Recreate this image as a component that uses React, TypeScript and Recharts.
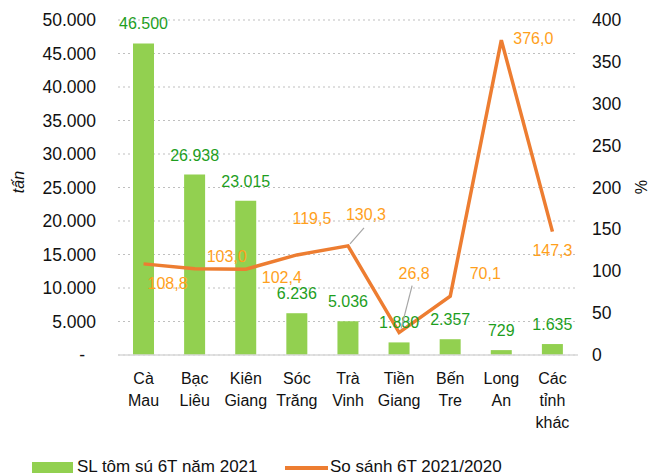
import React from 'react';
import {
  ComposedChart, Bar, Line, XAxis, YAxis, CartesianGrid, LabelList, Legend,
} from 'recharts';

const categories = ['Cà Mau', 'Bạc Liêu', 'Kiên Giang', 'Sóc Trăng', 'Trà Vinh', 'Tiền Giang', 'Bến Tre', 'Long An', 'Các tỉnh khác'];
const volume2021 = [46500, 26938, 23015, 6236, 5036, 1880, 2357, 729, 1635];
const compare2021vs2020 = [108.8, 103.0, 102.4, 119.5, 130.3, 26.8, 70.1, 376.0, 147.3];
const leftTicks = [0, 5000, 10000, 15000, 20000, 25000, 30000, 35000, 40000, 45000, 50000];
const rightTicks = [0, 50, 100, 150, 200, 250, 300, 350, 400];

// label placement (relative to the line point), Excel-like manual positions
const lineLabelOffsets: [number, number][] = [
  [24, 19], [32, -13], [36, 8], [15, -37], [18, -32], [15, -60], [35, -23], [32, -2], [0, 18],
];
const leaderLines: (number[] | null)[] = [null, null, null, null, [2, -2, 16, -18], [2, -4, 13, -47], null, null, null];

const data = categories.map((c, i) => ({ name: c, sl: volume2021[i], ss: compare2021vs2020[i] }));

const FONT = '"Liberation Sans", Arial, sans-serif';
const GREEN = '#92D050';
const ORANGE = '#ED7D31';
const GREEN_TEXT = '#1E9E1E';
const ORANGE_TEXT = '#FF9F1C';

const fmtThousands = (v: number) => String(v).replace(/\B(?=(\d{3})+(?!\d))/g, '.');
const fmtComma = (v: number) => v.toFixed(1).replace('.', ',');

const LeftTick = (props: any) => {
  const { x, y, payload } = props;
  const v = payload.value as number;
  return (
    <text x={v === 0 ? x - 11 : x} y={y} dy={6} textAnchor="end" fontSize={17.5} fill="#111" fontFamily={FONT}>
      {v === 0 ? '-' : fmtThousands(v)}
    </text>
  );
};

const RightTick = (props: any) => {
  const { x, y, payload } = props;
  return (
    <text x={x} y={y} dy={6} textAnchor="start" fontSize={17.5} fill="#111" fontFamily={FONT}>
      {payload.value}
    </text>
  );
};

const CatTick = (props: any) => {
  const { x, y, payload } = props;
  const parts = String(payload.value).split(' ');
  return (
    <text x={x} y={y} textAnchor="middle" fontSize={16} fill="#111" fontFamily={FONT}>
      {parts.map((p, i) => (
        <tspan key={i} x={x} dy={i === 0 ? 29 : 22}>{p}</tspan>
      ))}
    </text>
  );
};

const BarLabel = (props: any) => {
  const { x, y, width, value } = props;
  return (
    <text x={x + width / 2} y={y - 14} textAnchor="middle" fontSize={16} fill={GREEN_TEXT} fontFamily={FONT}>
      {fmtThousands(value)}
    </text>
  );
};

const LineLabel = (props: any) => {
  const { x, y, value, index } = props;
  const [dx, dy] = lineLabelOffsets[index] || [0, -15];
  const l = leaderLines[index];
  return (
    <g>
      {l && (
        <line x1={x + l[0]} y1={y + l[1]} x2={x + l[2]} y2={y + l[3]} stroke="#A6A6A6" strokeWidth={1.2} />
      )}
      <text x={x + dx} y={y + dy + 6} textAnchor="middle" fontSize={16} fill={ORANGE_TEXT} fontFamily={FONT}>
        {fmtComma(value)}
      </text>
    </g>
  );
};

const LegendContent = () => (
  <div style={{ position: 'relative', width: 651, height: 18, fontFamily: FONT, fontSize: 17, color: '#111', lineHeight: '18px' }}>
    <span style={{ position: 'absolute', left: 32, top: 4, width: 41, height: 11, background: GREEN }} />
    <span style={{ position: 'absolute', left: 77, top: 0, whiteSpace: 'nowrap' }}>SL tôm sú 6T năm 2021</span>
    <span style={{ position: 'absolute', left: 285, top: 8, width: 43, height: 3.5, background: ORANGE }} />
    <span style={{ position: 'absolute', left: 330, top: 0, whiteSpace: 'nowrap' }}>So sánh 6T 2021/2020</span>
  </div>
);

export default function App() {
  return (
    <div style={{ position: 'absolute', left: 0, top: 0, width: 651, height: 476, background: '#fff' }}>
      <ComposedChart width={651} height={476} data={data} margin={{ top: 20, right: 0, left: 0, bottom: 0 }}>
        <CartesianGrid yAxisId="left" vertical={false} stroke="#BFBFBF" strokeDasharray="2 3" />
        <XAxis
          dataKey="name"
          tick={<CatTick />}
          tickLine={false}
          axisLine={{ stroke: '#D9D9D9', strokeWidth: 1.5 }}
          height={103}
          interval={0}
          tickSize={0}
          tickMargin={0}
        />
        <YAxis
          yAxisId="left"
          orientation="left"
          width={118}
          domain={[0, 50000]}
          ticks={leftTicks}
          tick={<LeftTick />}
          tickLine={false}
          axisLine={false}
          tickSize={0}
          tickMargin={22}
          interval={0}
          label={{
            content: () => (
              <text x={24} y={182} transform="rotate(-90 24 182)" textAnchor="middle" fontSize={16} fontStyle="italic" fill="#111" fontFamily={FONT}>
                tấn
              </text>
            ),
          }}
        />
        <YAxis
          yAxisId="right"
          orientation="right"
          width={73}
          domain={[0, 400]}
          ticks={rightTicks}
          tick={<RightTick />}
          tickLine={false}
          axisLine={false}
          tickSize={0}
          tickMargin={14}
          interval={0}
          label={{
            content: () => (
              <text x={635} y={187} transform="rotate(90 635 187)" textAnchor="middle" fontSize={16} fill="#111" fontFamily={FONT}>
                %
              </text>
            ),
          }}
        />
        <Bar yAxisId="left" dataKey="sl" fill={GREEN} barSize={21} isAnimationActive={false}>
          <LabelList dataKey="sl" content={<BarLabel />} />
        </Bar>
        <Line yAxisId="right" dataKey="ss" type="linear" stroke={ORANGE} strokeWidth={3.5} dot={false} activeDot={false} isAnimationActive={false}>
          <LabelList dataKey="ss" content={<LineLabel />} />
        </Line>
        <Legend verticalAlign="bottom" content={<LegendContent />} wrapperStyle={{ left: 0, width: 651, height: 18 }} />
      </ComposedChart>
    </div>
  );
}
